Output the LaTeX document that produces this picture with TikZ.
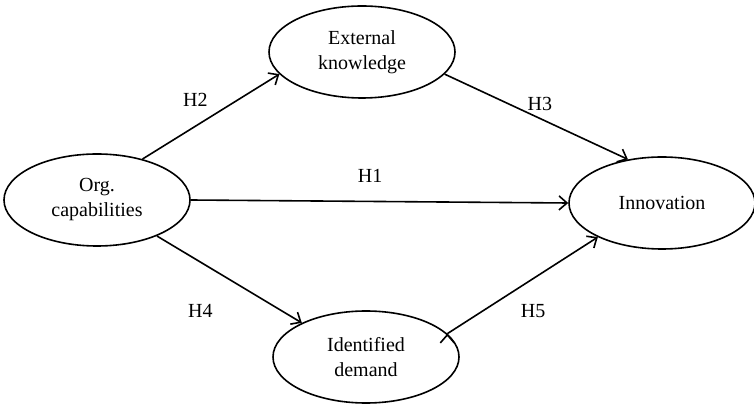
\documentclass[tikz,border=0pt]{standalone}
\usepackage{fontspec}
\setmainfont{Liberation Serif}
\usetikzlibrary{shapes.geometric, arrows.meta}
\tikzset{->, >={Straight Barb[length=4pt, width=7pt]}, x=0.5pt, y=-0.5pt,
    construct/.style={ellipse, draw, line width=0.8pt, minimum width=93pt, minimum height=46pt, align=center, font=\fontsize{10}{12.5}\selectfont},
    hyp/.style={font=\fontsize{10}{12}\selectfont}}

\begin{document}
\begin{tikzpicture}
        \useasboundingbox (0,0) rectangle (754,405);
        \node[construct] (org) at (97,200) {Org.\\capabilities};
        \node[construct] (extknow) at (362,52) {External\\knowledge};
        \node[construct] (innov) at (662,203) {Innovation};
        \node[construct] (demand) at (366,357) {Identified\\demand};
        \draw[line width=0.8pt] (org.42) edge node[hyp, pos=0.53, above left] (h2) {H2} (extknow.195)
            (extknow.345) edge node[hyp, pos=0.52, above] (h3) {H3} (innov.128)
            (org.east) edge node[hyp, pos=0.475, above=5.7pt] (h1) {H1} (innov.west)
            (org.329) edge node[hyp, pos=0.3, below=17.5pt] (h4) {H4} (demand.152)
            (demand.16) edge node[hyp, pos=0.57, below=9pt] (h5) {H5} (innov.208);
    \end{tikzpicture}
\end{document}
